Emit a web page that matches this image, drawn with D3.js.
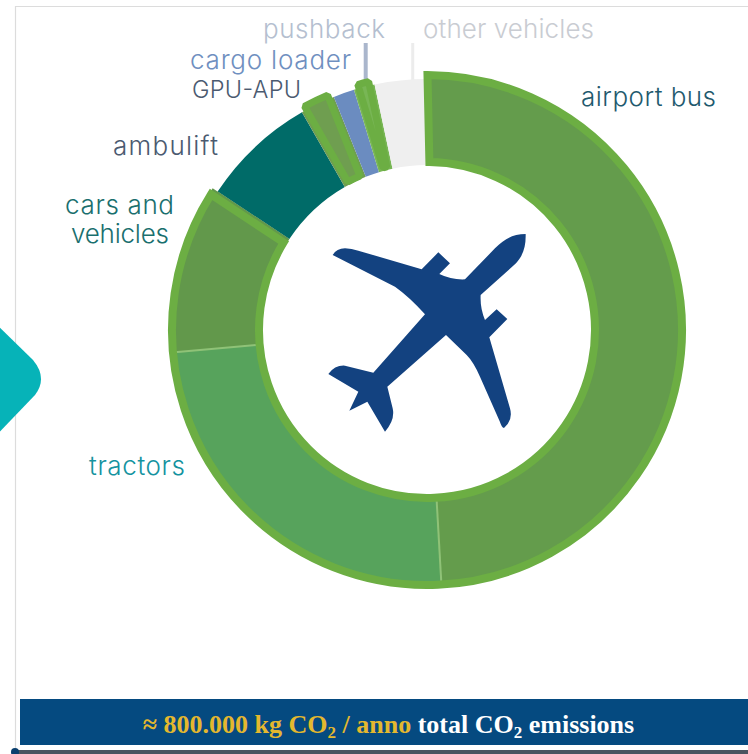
<!DOCTYPE html>
<html>
<head>
<meta charset="utf-8">
<script src="https://cdn.jsdelivr.net/npm/d3@7/dist/d3.min.js"></script>
<style>
html,body{margin:0;padding:0;background:#fff;overflow:hidden}
text{font-family:"Inter","Open Sans",sans-serif}
</style>
</head>
<body>
<svg id="chart" width="748" height="754"></svg>
<script>
// CO2 share per ground vehicle type, percent of the annual total
const categories = ["airport bus","tractors","cars and vehicles","ambulift","GPU-APU","cargo loader","pushback","other vehicles"];
const shares = [49.1,24.5,10.7,7.4,2.25,1.35,1.35,3.35];
const fills = ["#649c4c","#57a35c","#62984b","#006b68","#6f9e50","#6b8cc0","#78b655","#efefef"];
const labelColors = ["#1f5a6e","#1493a0","#1a6f6e","#4b5a70","#4b5a70","#6f8fc0","#b5bfd0","#c9ccd2"];
const outlined = [false,false,false,false,true,false,true,false];

const svg = d3.select("#chart");
const cx = 427, cy = 330;
const borderColor = "#6cae43";

// page furniture behind the chart
svg.append("path").attr("d","M15.5 760V6.5H748").attr("fill","none").attr("stroke","#dcdcdc").attr("stroke-width",1.2);
svg.append("path").attr("d","M-10 318L33 360Q48 378 35 395L-10 442Z").attr("fill","#06b3b8");

const pie = d3.pie().value(d => d).sort(null);
const arcs = pie(shares);
const arc = d3.arc();

// leader ticks for the two labels above the ring
const leaders = [["pushback",365.7,43,80,"#aab6cc",4],["other vehicles",412.7,43,80,"#ececec",3]];
svg.selectAll("line.leader").data(leaders).join("line").attr("class","leader")
  .attr("x1",d=>d[1]).attr("x2",d=>d[1]).attr("y1",d=>d[2]).attr("y2",d=>d[3])
  .attr("stroke",d=>d[4]).attr("stroke-width",d=>d[5]);

const g = svg.append("g").attr("transform",`translate(${cx},${cy})`);

// plain ring segments
g.selectAll("path.slice").data(arcs).join("path").attr("class","slice")
  .attr("d", d => arc({innerRadius:165, outerRadius:251, startAngle:d.startAngle, endAngle:d.endAngle}))
  .attr("fill",(d,i)=>fills[i]);

// bus, tractors and cars fill out to the wider outlined radius
g.selectAll("path.main").data(arcs.slice(0,3)).join("path").attr("class","main")
  .attr("d", d => arc({innerRadius:166, outerRadius:257, startAngle:d.startAngle, endAngle:d.endAngle}))
  .attr("fill",(d,i)=>fills[i]);

// thin separators inside the main group
[arcs[0].endAngle, arcs[1].endAngle].forEach(a => {
  const s = Math.sin(a), c = -Math.cos(a);
  g.append("line").attr("x1",166*s).attr("y1",166*c).attr("x2",256*s).attr("y2",256*c)
    .attr("stroke","#8fc277").attr("stroke-width",2);
});

// one heavy outline around the main group; padding keeps it inside the slice edges
g.append("path")
  .attr("d", arc({innerRadius:168, outerRadius:255, startAngle:arcs[0].startAngle-0.022, endAngle:arcs[2].endAngle, padAngle:0.04, padRadius:200}))
  .attr("fill","none").attr("stroke",borderColor).attr("stroke-width",8).attr("stroke-linejoin","miter");

// small segments standing proud of the ring with their own outline
g.selectAll("path.flag").data(arcs.filter((d,i)=>outlined[i])).join("path").attr("class","flag")
  .attr("d", d => arc({innerRadius:168, outerRadius:255, startAngle:d.startAngle, endAngle:d.endAngle, padAngle:0.034, padRadius:200}))
  .attr("fill",d=>fills[d.index]).attr("stroke",borderColor).attr("stroke-width",7).attr("stroke-linejoin","bevel");

// aircraft silhouette in the hole
svg.append("path").attr("transform","translate(310,220) scale(0.3333)")
  .attr("fill","#134280")
  .attr("d","M647 42C648 80 640 105 618 130L512 225Q510 265 525 300L560 268L592 297L538 352L600 565Q610 600 582 624Q575 622 570 606L510 470Q490 425 470 405L408 345L232 500L248 565Q256 600 225 635L172 545L118 572L145 515L55 462Q75 435 105 437L190 458L345 283Q300 232 255 200L68 105Q80 85 105 85Q125 86 145 92L335 148L385 97L420 130L388 162Q425 180 465 178L555 85C585 55 610 42 647 42Z");

// category labels, each fitted to a set width
const labelLayout = [
  {i:0, lines:[["airport bus",581,106,135]], size:26},
  {i:1, lines:[["tractors",89,475,96]], size:26},
  {i:2, lines:[["cars and",65,214,109],["vehicles",71,243,98]], size:26},
  {i:3, lines:[["ambulift",113,155,105]], size:26},
  {i:4, lines:[["GPU-APU",192,98,109]], size:23.5},
  {i:5, lines:[["cargo loader",190,69,161]], size:26},
  {i:6, lines:[["pushback",263,38,122]], size:26},
  {i:7, lines:[["other vehicles",423,38,171]], size:26}
];
labelLayout.forEach(l => {
  l.lines.forEach(([t,x,y,w]) => {
    svg.append("text").attr("x",x).attr("y",y).attr("textLength",w).attr("lengthAdjust","spacing")
      .attr("font-size",l.size).attr("font-weight",300).attr("fill",labelColors[l.i]).text(t);
  });
});

// total banner
svg.append("rect").attr("x",20).attr("y",699).attr("width",728).attr("height",46).attr("fill","#054a80");
const banner = svg.append("text").attr("x",388.5).attr("y",733).attr("text-anchor","middle")
  .style("font-family","'Liberation Serif',serif").attr("font-size",26).attr("font-weight","bold");
banner.append("tspan").attr("fill","#e4b82e").text("≈ 800.000 kg CO");
banner.append("tspan").attr("fill","#e4b82e").attr("font-size",17).attr("dy",5).text("2");
banner.append("tspan").attr("fill","#e4b82e").attr("dy",-5).text(" / anno ");
banner.append("tspan").attr("fill","#fff").text("total CO");
banner.append("tspan").attr("fill","#fff").attr("font-size",17).attr("dy",5).text("2");
banner.append("tspan").attr("fill","#fff").attr("dy",-5).text(" emissions");

// rule along the bottom edge
svg.append("rect").attr("x",15).attr("y",750).attr("width",733).attr("height",4).attr("fill","#4a5560");
svg.append("circle").attr("cx",15).attr("cy",752).attr("r",4).attr("fill","#0b3f6e");
</script>
</body>
</html>
